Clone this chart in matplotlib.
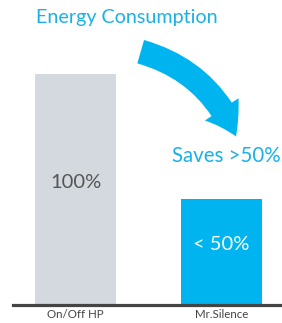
import matplotlib
matplotlib.use("Agg")
import matplotlib.pyplot as plt
from matplotlib.patches import FancyArrowPatch

# data
categories = ["On/Off HP", "Mr.Silence"]
values = [100, 46]
bar_labels = ["100%", "< 50%"]
title = "Energy Consumption"
note = "Saves >50%"

BLUE = "#00b5ef"
GRAY = "#d4d8df"

plt.rcParams['font.family'] = ['Lato', 'DejaVu Sans']

fig = plt.figure(figsize=(2.82, 3.23), dpi=100)
ax = fig.add_axes([13 / 282, 18 / 323, 269 / 282, 305 / 323])

bars = ax.bar(range(len(categories)), values, width=0.555,
              color=[GRAY, BLUE])
ax.set_xlim(-0.428, 1.414)
ax.set_ylim(0, 132)

for s in ["top", "right", "left"]:
    ax.spines[s].set_visible(False)
ax.spines["bottom"].set_color("#444444")
ax.spines["bottom"].set_linewidth(2.3)
ax.set_yticks([])
ax.set_xticks(range(len(categories)))
ax.set_xticklabels(categories, fontsize=8.3, color="#444444")
ax.tick_params(axis="x", length=0, pad=3)

# value labels inside bars
ax.text(0, 53, bar_labels[0], ha="center", va="center",
        fontsize=14.5, color="#555555")
ax.text(1, 26, bar_labels[1], ha="center", va="center",
        fontsize=14.5, color="white")

# title and note
fig.text(36 / 282, 1 - 18 / 323, title, ha="left", va="center",
         fontsize=14.2, color="#1ab0e8")
fig.text(281 / 282, 1 - 156 / 323, note, ha="right", va="center",
         fontsize=14.8, color="#1ab0e8")

# curved arrow
def px(x, y):
    return ((x - 75.5) / 146, (305 - y) / 2.31)

arrow = FancyArrowPatch(px(138, 51), px(237, 139),
                        connectionstyle="arc3,rad=-0.25",
                        arrowstyle="simple,head_width=2.9,head_length=2.2,tail_width=1.75",
                        mutation_scale=10, color=BLUE, lw=0,
                        clip_on=False)
ax.add_patch(arrow)

fig.savefig("out.png", dpi=100)
